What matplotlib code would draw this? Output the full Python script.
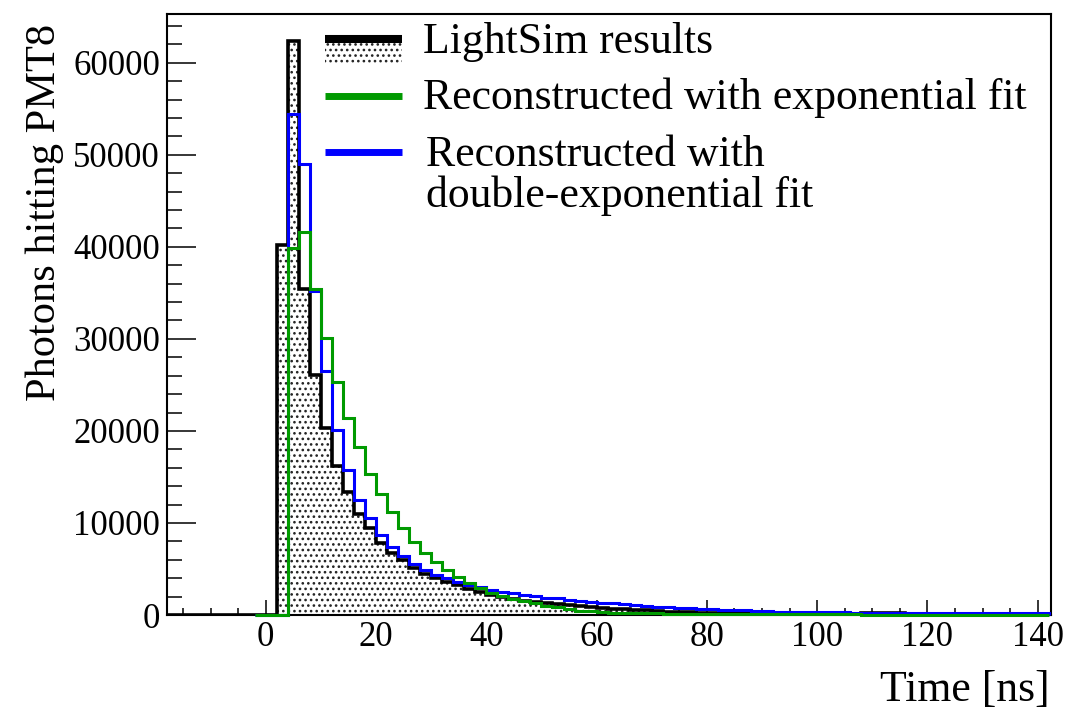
import numpy as np
import matplotlib
matplotlib.use("Agg")
import matplotlib.pyplot as plt
from matplotlib.patches import Rectangle
from matplotlib.lines import Line2D
from matplotlib.ticker import MultipleLocator

plt.rcParams['font.family'] = ['Liberation Serif', 'DejaVu Serif']
plt.rcParams['hatch.linewidth'] = 1.1

# ---- histogram binning -------------------------------------------------
bin_width = 2.0          # ns
x_limits = (-17.9, 142.4)
hist_end = 142.0

# ---- photon counts per 2 ns bin ----------------------------------------
# LightSim simulation, first bin starts at 2 ns
lightsim_start = 2.0
lightsim_counts = [
    40200, 62400, 35400, 26100, 20300, 16200, 13400, 11000, 9400, 7800,
    6700, 6000, 5100, 4500, 4000, 3600, 3250, 2850, 2450, 2150,
    1950, 1780, 1560, 1400, 1300, 1180, 1050, 950, 850, 770,
    690, 620, 560, 490, 430, 380, 340, 300, 270, 250,
    230, 215, 200, 190, 180, 170, 160, 150, 140, 130,
    120, 110, 100, 260, 250, 240, 230, 40, 30, 25,
    20, 15, 10, 10, 5, 5, 0, 0, 0, 0,
]

# Reconstruction from the single-exponential fit, first bin starts at 4 ns
exp_start = 4.0
exp_counts = [
    39900, 41600, 35400, 30100, 25300, 21400, 18200, 15300, 13200, 11200,
    9400, 7900, 6700, 5800, 4900, 4100, 3500, 2900, 2400, 2050,
    1750, 1500, 1270, 1000, 850, 650, 480, 400, 340, 260,
    220, 200, 180, 170, 150, 145, 140, 135, 130, 125,
    120, 115, 110, 105, 100, 95, 90, 90, 85, 80,
    80, 75, 30, 30, 30, 0, 0, 0, 0, 0,
    0, 0, 0, 0, 0, 0, 0, 0, 0,
]

# Reconstruction from the double-exponential fit, first bin starts at 4 ns
dexp_start = 4.0
dexp_counts = [
    54400, 49000, 35200, 26500, 20100, 15800, 12500, 10500, 8700, 7400,
    6400, 5500, 4900, 4400, 4000, 3600, 3300, 3000, 2750, 2500,
    2350, 2200, 2050, 1900, 1800, 1650, 1550, 1450, 1350, 1280,
    1150, 1050, 960, 900, 850, 790, 740, 690, 620, 580,
    540, 500, 470, 440, 380, 360, 340, 320, 300, 290,
    280, 270, 260, 250, 240, 235, 230, 225, 220, 215,
    210, 205, 200, 195, 190, 185, 180, 175, 170,
]

legend_labels = [
    "LightSim results",
    "Reconstructed with exponential fit",
    "Reconstructed with\ndouble-exponential fit",
]
x_title = "Time [ns]"
y_title = "Photons hitting PMT8"

col_black = "black"
col_exp = "#009a00"
col_dexp = "#0000ff"
dot_color = "#222222"


def full_histogram(lo, start, counts):
    """Pad the counts with empty bins so the outline spans lo..hist_end."""
    edges = np.arange(lo, hist_end + bin_width / 2, bin_width)
    vals = np.zeros(len(edges) - 1)
    i0 = int(round((start - lo) / bin_width))
    vals[i0:i0 + len(counts)] = counts
    return edges, vals


W, H = 1067, 710
fig = plt.figure(figsize=(W / 100, H / 100), dpi=100)
ax = fig.add_axes([167 / W, 1 - 615 / H, (1051 - 167) / W, (615 - 14) / H])

e_ls, v_ls = full_histogram(-18.0, lightsim_start, lightsim_counts)
e_ex, v_ex = full_histogram(-2.0, exp_start, exp_counts)
e_dx, v_dx = full_histogram(-2.0, dexp_start, dexp_counts)

# dotted fill + outline of the simulation histogram
ax.stairs(v_ls, e_ls, fill=True, facecolor="white", edgecolor=dot_color,
          hatch="...", linewidth=0, zorder=2)
ax.stairs(v_ls, e_ls, color=col_black, linewidth=2.6, zorder=3)
ax.stairs(v_dx, e_dx, color=col_dexp, linewidth=2.2, zorder=4, clip_on=False)
ax.stairs(v_ex, e_ex, color=col_exp, linewidth=2.2, zorder=5, clip_on=False)

ax.set_xlim(*x_limits)
ax.set_ylim(0, 65300)

ax.xaxis.set_major_locator(MultipleLocator(20))
ax.xaxis.set_minor_locator(MultipleLocator(5))
ax.yaxis.set_major_locator(MultipleLocator(10000))
ax.yaxis.set_minor_locator(MultipleLocator(2000))
ax.tick_params(axis="both", which="both", direction="in", top=False, right=False,
               width=1.1, color="black")
ax.tick_params(axis="x", which="major", length=10.8, labelsize=25, pad=4)
ax.tick_params(axis="x", which="minor", length=5.4)
ax.tick_params(axis="y", which="major", length=21, labelsize=25, pad=5)
ax.tick_params(axis="y", which="minor", length=10.5)
for s in ax.spines.values():
    s.set_linewidth(1.5)

fig.text(1050 / W, 1 - 690 / H, x_title, ha="right", va="center", fontsize=31.5)
fig.text(45 / W, 1 - 24 / H, y_title, ha="center", va="top", rotation=90,
         fontsize=30.5)

# ---- legend (no frame) -------------------------------------------------
def fx(px):
    return px / W


def fy(py):
    return 1 - py / H


fig.patches.append(Rectangle((fx(325), fy(63)), fx(402) - fx(325), fy(43) - fy(63),
                             transform=fig.transFigure, facecolor="white",
                             edgecolor=dot_color, hatch="...", linewidth=0))
fig.lines.append(Line2D([fx(325), fx(402)], [fy(39), fy(39)], transform=fig.transFigure,
                        color=col_black, linewidth=5.8, solid_capstyle="butt"))
fig.lines.append(Line2D([fx(325), fx(402)], [fy(96), fy(96)], transform=fig.transFigure,
                        color=col_exp, linewidth=5.0, solid_capstyle="butt"))
fig.lines.append(Line2D([fx(325), fx(402)], [fy(152), fy(152)], transform=fig.transFigure,
                        color=col_dexp, linewidth=5.0, solid_capstyle="butt"))

fig.text(fx(423), fy(42), legend_labels[0], ha="left", va="center", fontsize=31.5)
fig.text(fx(423), fy(98), legend_labels[1], ha="left", va="center", fontsize=31.5)
fig.text(fx(426), fy(135), legend_labels[2], ha="left", va="top", fontsize=31.5,
         linespacing=1.0)

fig.savefig("out.png", dpi=100)
